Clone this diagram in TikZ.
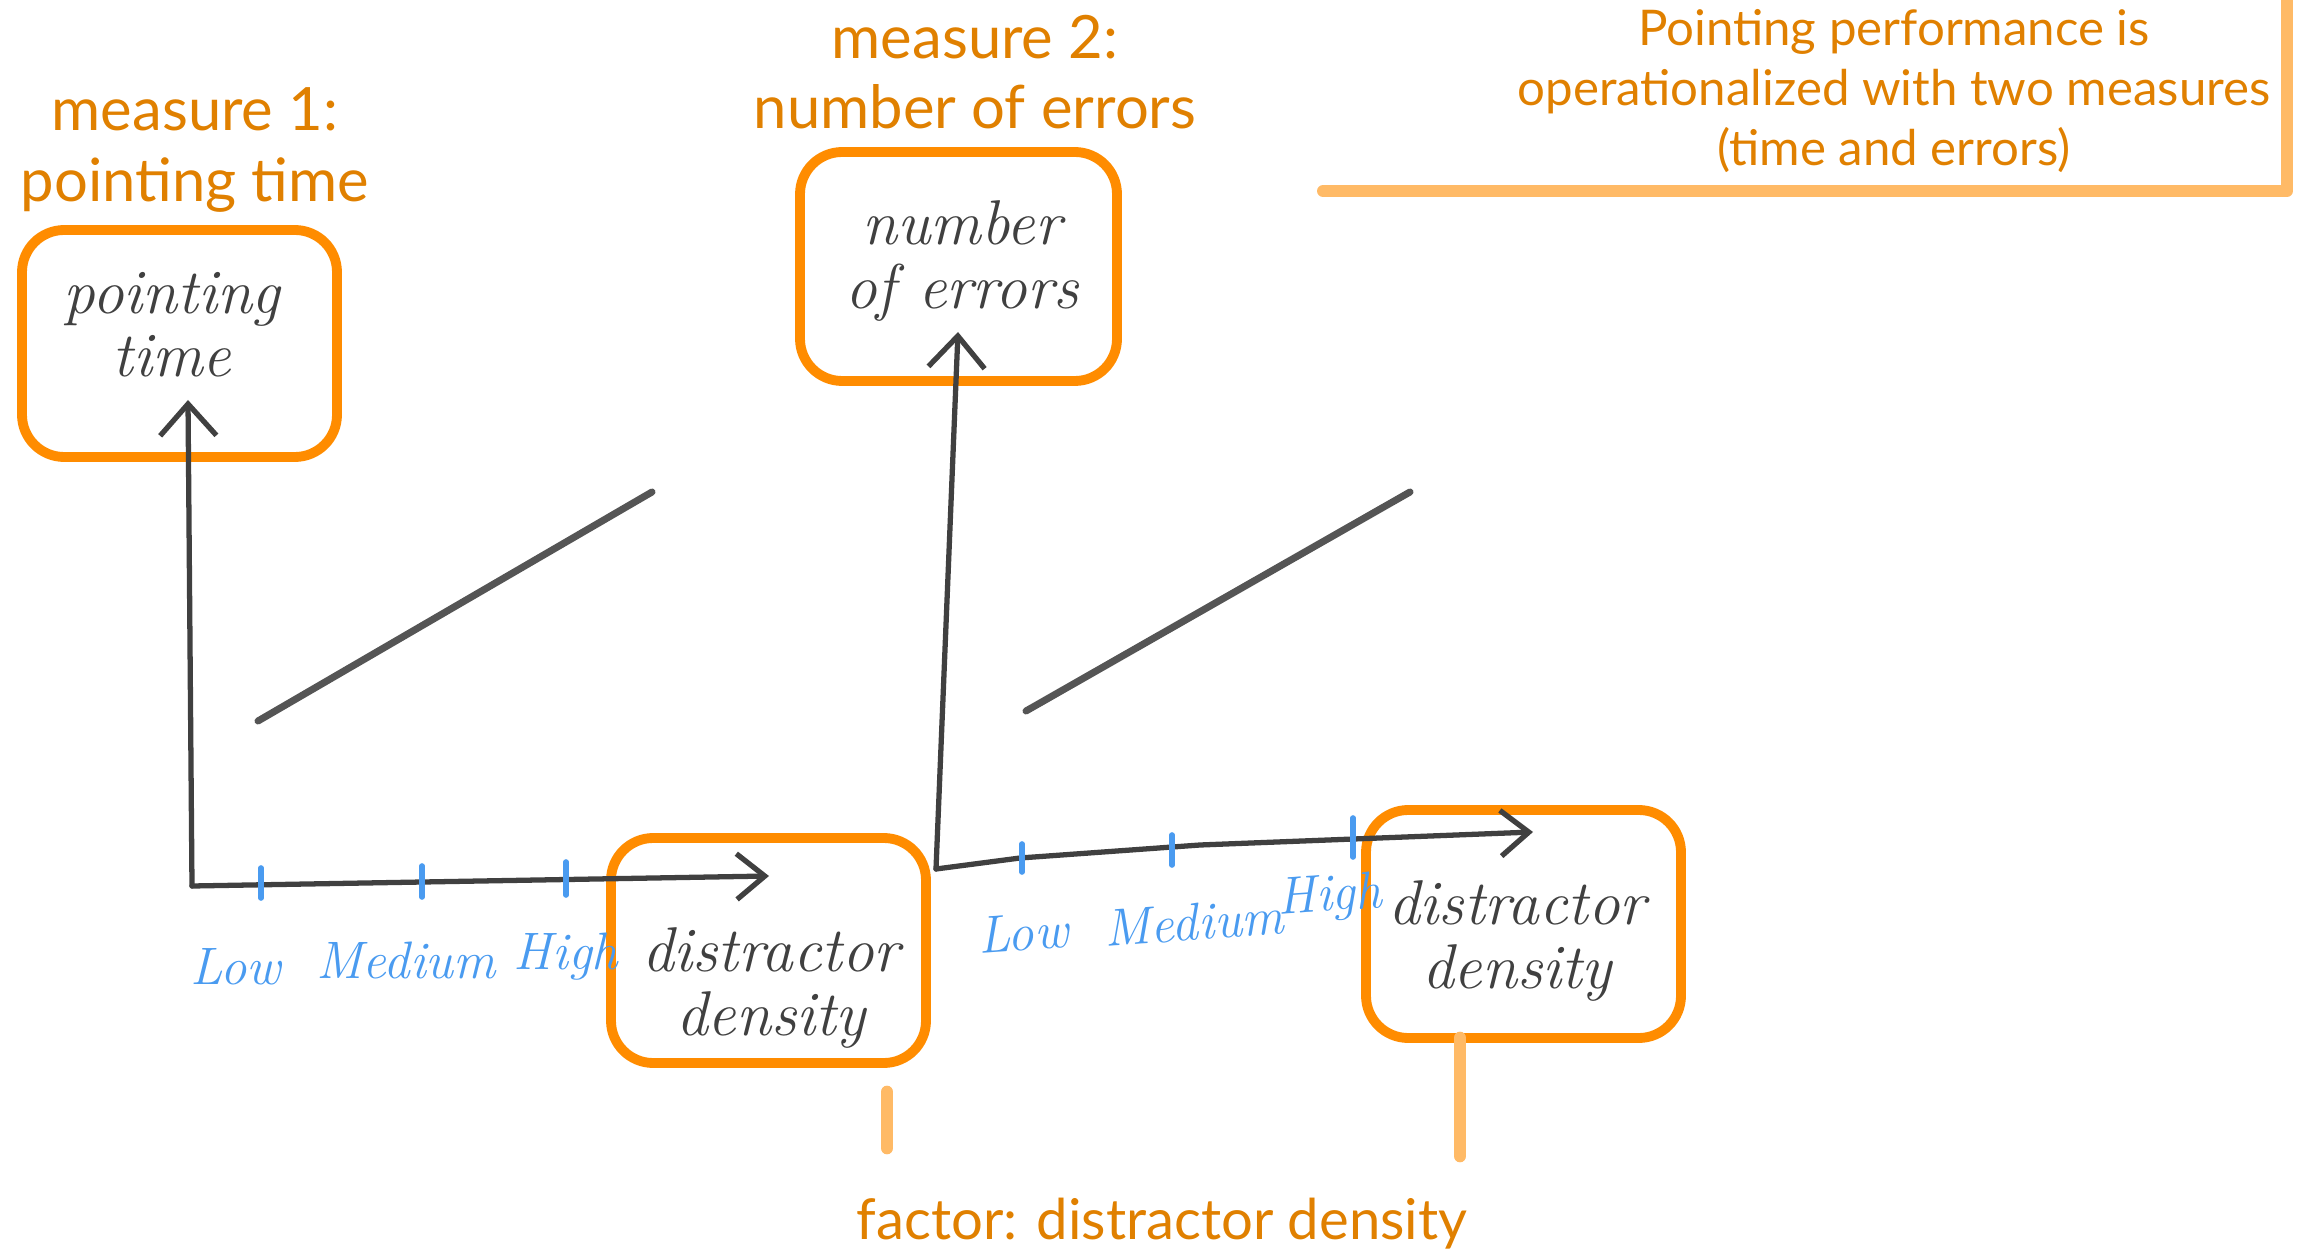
\documentclass[tikz,border=0pt]{standalone}
\usepackage{fontspec}
\newfontfamily\orf{Lato}
\usetikzlibrary{arrows.meta}
\definecolor{boxor}{HTML}{FF8C00}
\definecolor{txtor}{HTML}{E08000}
\definecolor{lightor}{HTML}{FFBA66}
\definecolor{ink}{HTML}{404040}
\definecolor{trend}{HTML}{555555}
\definecolor{bluei}{HTML}{4A9BF0}
\begin{document}
\begin{tikzpicture}[x=0.1mm,y=-0.1mm,
  framebox/.style={draw=boxor, line width=2.8pt, rounded corners=12pt, minimum width=31.5mm, minimum height=22.7mm, inner sep=0pt, outer sep=0pt},
  hand/.style={text=ink, font=\itshape\fontsize{18}{18}\selectfont, align=center, inner sep=0pt},
  orlabel/.style={text=txtor, font=\orf\fontsize{17}{20}\selectfont, align=center, inner sep=0pt},
  notelabel/.style={text=txtor, font=\orf\fontsize{14}{17}\selectfont, align=center, inner sep=0pt},
  lvl/.style={text=bluei, font=\itshape\fontsize{15}{15}\selectfont, inner sep=0pt},
  tick/.style={draw=bluei, line width=1.6pt, line cap=round},
  axisup/.style={draw=ink, line width=1.5pt, line cap=round, -{Straight Barb[length=9pt,width=16pt,line width=1.5pt]}},
  axisright/.style={draw=ink, line width=1.5pt, line cap=round, -{Straight Barb[length=8pt,width=13pt,line width=1.5pt]}},
  trendline/.style={draw=trend, line width=2pt, line cap=round},
  stub/.style={draw=lightor, line width=3.6pt, line cap=round}
]
\useasboundingbox (0,0) rectangle (2298,1258);

% boxes
\node[framebox] (b1) at (179.5,343.5) {};
\node[framebox, minimum width=31.7mm, minimum height=22.9mm] (b2) at (958.5,266.5) {};
\node[framebox, minimum height=22.5mm] (b3) at (768.5,950.5) {};
\node[framebox, minimum height=22.8mm] (b4) at (1523.5,924) {};

% hand texts
\node[hand] (t1) at (172,325) {pointing\\time};
\node[hand] (t2) at (962,261) {number\\of errors};
\node[hand] (t3) at (771,988) {distractor\\density};
\node[hand] (t4) at (1517,941) {distractor\\density};

% orange labels
\node[orlabel] (m1) at (195,150) {measure 1:\\pointing time};
\node[orlabel] (m2) at (975,72) {measure 2:\\number of errors};
\node[notelabel] (note) at (1894,91) {Pointing performance is\\operationalized with two measures\\(time and errors)};
\node[orlabel, font=\orf\fontsize{16}{20}\selectfont] (fac) at (1162,1224) {factor: distractor density};

% bracket under note
\coordinate (brl) at (1323,191);
\coordinate (brc) at (2287,191);
\coordinate (brt) at (2287,0);
\draw[draw=lightor, line width=3.4pt, line cap=round, line join=round] (brl) -- (brc) -- (brt);

% factor stubs
\coordinate (s1a) at (887,1092);
\coordinate (s1b) at (887,1148);
\coordinate (s2b) at (1460,1156);
\draw[stub] (s1a) -- (s1b);
\draw[stub] (b4.south -| s2b) -- (s2b);

% axes 1
\coordinate (o1) at (192,886);
\coordinate (y1) at (188,400);
\coordinate (x1) at (769,876);
\draw[axisup] (o1) -- (y1);
\draw[axisright] (o1) -- (x1);

% axes 2
\coordinate (o2) at (936,869);
\coordinate (y2) at (958,332);
\coordinate (x2) at (1533,832);
\draw[axisup] (o2) -- (y2);
\draw[axisright] (o2) -- (1020,858) -- (1200,845) -- (x2);

% trend lines
\coordinate (l1a) at (258,721);
\coordinate (l1b) at (652,492);
\coordinate (l2a) at (1026,711);
\coordinate (l2b) at (1410,492);
\draw[trendline] (l1a) -- (l1b);
\draw[trendline] (l2a) -- (l2b);

% ticks axis 1
\coordinate (k1a) at (261,868); \coordinate (k1b) at (261,898);
\coordinate (k2a) at (422,866); \coordinate (k2b) at (422,897);
\coordinate (k3a) at (566,862); \coordinate (k3b) at (566,895);
\draw[tick] (k1a) -- (k1b);
\draw[tick] (k2a) -- (k2b);
\draw[tick] (k3a) -- (k3b);
% ticks axis 2
\coordinate (k4a) at (1022,844); \coordinate (k4b) at (1022,872);
\coordinate (k5a) at (1172,835); \coordinate (k5b) at (1172,865);
\coordinate (k6a) at (1353,818); \coordinate (k6b) at (1353,857);
\draw[tick] (k4a) -- (k4b);
\draw[tick] (k5a) -- (k5b);
\draw[tick] (k6a) -- (k6b);

% level labels
\node[lvl] (lo1) at (236,967) {Low};
\node[lvl] (me1) at (406,960) {Medium};
\node[lvl] (hi1) at (566,957) {High};
\node[lvl, rotate=4] (lo2) at (1023,933) {Low};
\node[lvl, rotate=4] (me2) at (1194,922) {Medium};
\node[lvl, rotate=4] (hi2) at (1330,898) {High};
\end{tikzpicture}
\end{document}
